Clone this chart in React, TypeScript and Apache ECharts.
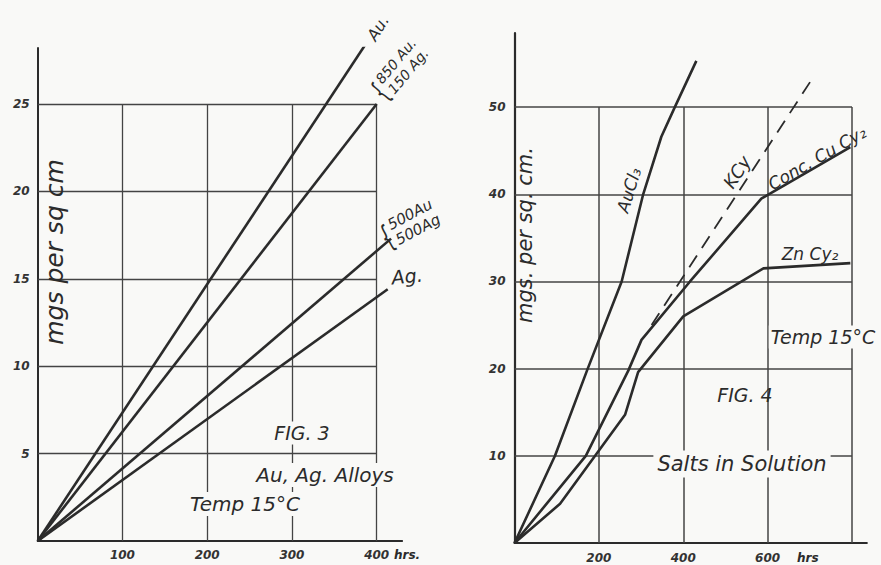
import React, { useEffect, useRef } from 'react';
import * as echarts from 'echarts';

// ---------- Fig. 3 : Au, Ag alloys ----------
const leftXTicks = [100, 200, 300, 400];
const leftYTicks = [5, 10, 15, 20, 25];
const auHours = [0, 388];
const auValues = [0, 28.5];
const au850Hours = [0, 400];
const au850Values = [0, 25];
const au500Hours = [0, 417];
const au500Values = [0, 17.3];
const agHours = [0, 413];
const agValues = [0, 14.4];

// ---------- Fig. 4 : Salts in solution ----------
const rightXTicks = [200, 400, 600, 800];
const rightYTicks = [10, 20, 30, 40, 50];
const auCl3Hours = [0, 96, 172, 254, 305, 348, 380, 431];
const auCl3Values = [0, 10, 19.8, 30, 40, 46.6, 50, 55.3];
const cuCy2Hours = [0, 169, 270, 301, 416, 585, 796];
const cuCy2Values = [0, 10, 19.8, 23.3, 30, 39.5, 45.4];
const znCy2Hours = [0, 108, 262, 293, 400, 590, 796];
const znCy2Values = [0, 4.5, 14.7, 19.6, 26, 31.5, 32.1];
const kcyHours = [325, 709];
const kcyValues = [25, 53.5];

const INK = '#2b2b2b';
const GRID_INK = '#444444';
const BG = '#f9f9f7';
const FONT = '"DejaVu Sans", sans-serif';

const zip = (xs: number[], ys: number[]) => xs.map((x, i) => [x, ys[i]]);

function gridMarks(xTicks: number[], yTicks: number[]) {
  const xMax = xTicks[xTicks.length - 1];
  const yMax = yTicks[yTicks.length - 1];
  return [
    ...yTicks.map((y) => [{ coord: [0, y] }, { coord: [xMax, y] }]),
    ...xTicks.map((x) => [{ coord: [x, 0] }, { coord: [x, yMax] }]),
  ];
}

function txt(text: string, x: number, y: number, size: number, rot = 0, extra: any = {}) {
  return {
    type: 'text',
    x,
    y,
    rotation: (rot * Math.PI) / 180,
    z: 50,
    style: {
      text,
      fontSize: size,
      fontStyle: 'italic',
      fontFamily: FONT,
      fill: INK,
      align: 'center',
      verticalAlign: 'middle',
      ...extra,
    },
  };
}

function braceLabel(text: string, x: number, y: number, rot: number, size: number, braceX: number) {
  return {
    type: 'group',
    x,
    y,
    rotation: (rot * Math.PI) / 180,
    z: 50,
    children: [
      {
        type: 'text',
        x: braceX,
        y: 0,
        style: {
          text: '{',
          fontSize: size * 2.1,
          fontFamily: FONT,
          fill: INK,
          align: 'center',
          verticalAlign: 'middle',
        },
        scaleX: 0.55,
      },
      {
        type: 'text',
        x: 0,
        y: 0,
        style: {
          text,
          fontSize: size,
          lineHeight: size + 2,
          fontStyle: 'italic',
          fontFamily: FONT,
          fill: INK,
          align: 'center',
          verticalAlign: 'middle',
        },
      },
    ],
  };
}

const axisLabelBase = {
  fontStyle: 'italic',
  fontWeight: 'bold',
  fontFamily: FONT,
  fontSize: 12,
  color: '#333',
};

function lineSeries(name: string, xi: number, data: number[][], dashed = false) {
  return {
    name,
    type: 'line',
    xAxisIndex: xi,
    yAxisIndex: xi,
    data,
    symbol: 'none',
    smooth: false,
    z: 5,
    lineStyle: {
      color: INK,
      width: dashed ? 1.8 : 2.6,
      type: dashed ? [14, 9] : 'solid',
    },
  };
}

export default function App() {
  const ref = useRef<HTMLDivElement>(null);

  useEffect(() => {
    if (!ref.current) return;
    const chart = echarts.init(ref.current, undefined, { renderer: 'svg' });

    const option: any = {
      animation: false,
      backgroundColor: BG,
      grid: [
        { left: 37.7, top: 48.1, width: 364.4, height: 492.9 },
        { left: 514.5, top: 33, width: 352.3, height: 510 },
      ],
      xAxis: [
        {
          type: 'value',
          gridIndex: 0,
          min: 0,
          max: 430,
          interval: 100,
          axisLine: { show: true, lineStyle: { color: INK, width: 2 } },
          axisTick: { show: false },
          splitLine: { show: false },
          axisLabel: {
            ...axisLabelBase,
            margin: 8,
            showMaxLabel: false,
            formatter: (v: number) => (v === 0 ? '' : String(v)),
          },
        },
        {
          type: 'value',
          gridIndex: 1,
          min: 0,
          max: 835,
          interval: 200,
          axisLine: { show: true, lineStyle: { color: INK, width: 2.2 } },
          axisTick: { show: false },
          splitLine: { show: false },
          axisLabel: {
            ...axisLabelBase,
            margin: 9,
            showMaxLabel: false,
            formatter: (v: number) => (v === 0 || v === 800 ? '' : String(v)),
          },
        },
      ],
      yAxis: [
        {
          type: 'value',
          gridIndex: 0,
          min: 0,
          max: 28.2,
          interval: 5,
          axisLine: { show: true, lineStyle: { color: INK, width: 2 } },
          axisTick: { show: false },
          splitLine: { show: false },
          axisLabel: {
            ...axisLabelBase,
            margin: 8,
            showMaxLabel: false,
            formatter: (v: number) => (v === 0 ? '' : String(v)),
          },
        },
        {
          type: 'value',
          gridIndex: 1,
          min: 0,
          max: 58.5,
          interval: 10,
          axisLine: { show: true, lineStyle: { color: INK, width: 2.2 } },
          axisTick: { show: false },
          splitLine: { show: false },
          axisLabel: {
            ...axisLabelBase,
            margin: 9,
            showMaxLabel: false,
            formatter: (v: number) => (v === 0 ? '' : String(v)),
          },
        },
      ],
      series: [
        {
          type: 'line',
          xAxisIndex: 0,
          yAxisIndex: 0,
          data: [[0, 0]],
          symbol: 'none',
          lineStyle: { width: 0 },
          z: 1,
          markLine: {
            silent: true,
            symbol: ['none', 'none'],
            label: { show: false },
            lineStyle: { color: GRID_INK, width: 1.3, type: 'solid' },
            data: gridMarks(leftXTicks, leftYTicks),
          },
        },
        {
          type: 'line',
          xAxisIndex: 1,
          yAxisIndex: 1,
          data: [[0, 0]],
          symbol: 'none',
          lineStyle: { width: 0 },
          z: 1,
          markLine: {
            silent: true,
            symbol: ['none', 'none'],
            label: { show: false },
            lineStyle: { color: GRID_INK, width: 1.5, type: 'solid' },
            data: gridMarks(rightXTicks, rightYTicks),
          },
        },
        lineSeries('Au', 0, zip(auHours, auValues)),
        lineSeries('850 Au 150 Ag', 0, zip(au850Hours, au850Values)),
        lineSeries('500 Au 500 Ag', 0, zip(au500Hours, au500Values)),
        lineSeries('Ag', 0, zip(agHours, agValues)),
        lineSeries('AuCl3', 1, zip(auCl3Hours, auCl3Values)),
        lineSeries('Conc. CuCy2', 1, zip(cuCy2Hours, cuCy2Values)),
        lineSeries('ZnCy2', 1, zip(znCy2Hours, znCy2Values)),
        lineSeries('KCy', 1, zip(kcyHours, kcyValues), true),
      ],
      graphic: [
        // Fig. 3 texts
        txt('mgs per sq cm', 54, 252, 25, 90),
        txt('Au.', 378, 28, 16, 58),
        braceLabel('850 Au.\n150 Ag.', 402, 66, 50, 14, -34),
        braceLabel('500Au\n500Ag', 414, 222, 28, 15, -31),
        txt('Ag.', 407, 276, 19, 6),
        txt('FIG. 3', 302, 433, 19, 0, { backgroundColor: BG, padding: [2, 3] }),
        txt('Au, Ag. Alloys', 325, 475, 20, 0, { backgroundColor: BG, padding: [2, 3] }),
        txt('Temp 15°C', 245, 504, 20, 0, { backgroundColor: BG, padding: [2, 3] }),
        txt('hrs.', 394, 555, 12, 0, { align: 'left', fontWeight: 'bold' }),
        // Fig. 4 texts
        txt('mgs. per sq. cm.', 525, 235, 21, 90),
        txt('AuCl₃', 629, 190, 17, 73),
        txt('KCy', 737, 172, 18, 57),
        txt('Conc. Cu Cy₂', 817, 158, 17, 30),
        txt('Zn Cy₂', 810, 254, 17, 0),
        txt('Temp 15°C', 823, 337, 19, 0, { backgroundColor: BG, padding: [2, 2] }),
        txt('FIG. 4', 745, 395, 19, 0),
        txt('Salts in Solution', 742, 464, 21, 0, { backgroundColor: BG, padding: [3, 4] }),
        txt('hrs', 797, 558, 12, 0, { align: 'left', fontWeight: 'bold' }),
      ],
    };

    chart.setOption(option);
    return () => chart.dispose();
  }, []);

  return (
    <div
      ref={ref}
      style={{ position: 'absolute', left: 0, top: 0, width: 881, height: 565 }}
    />
  );
}
